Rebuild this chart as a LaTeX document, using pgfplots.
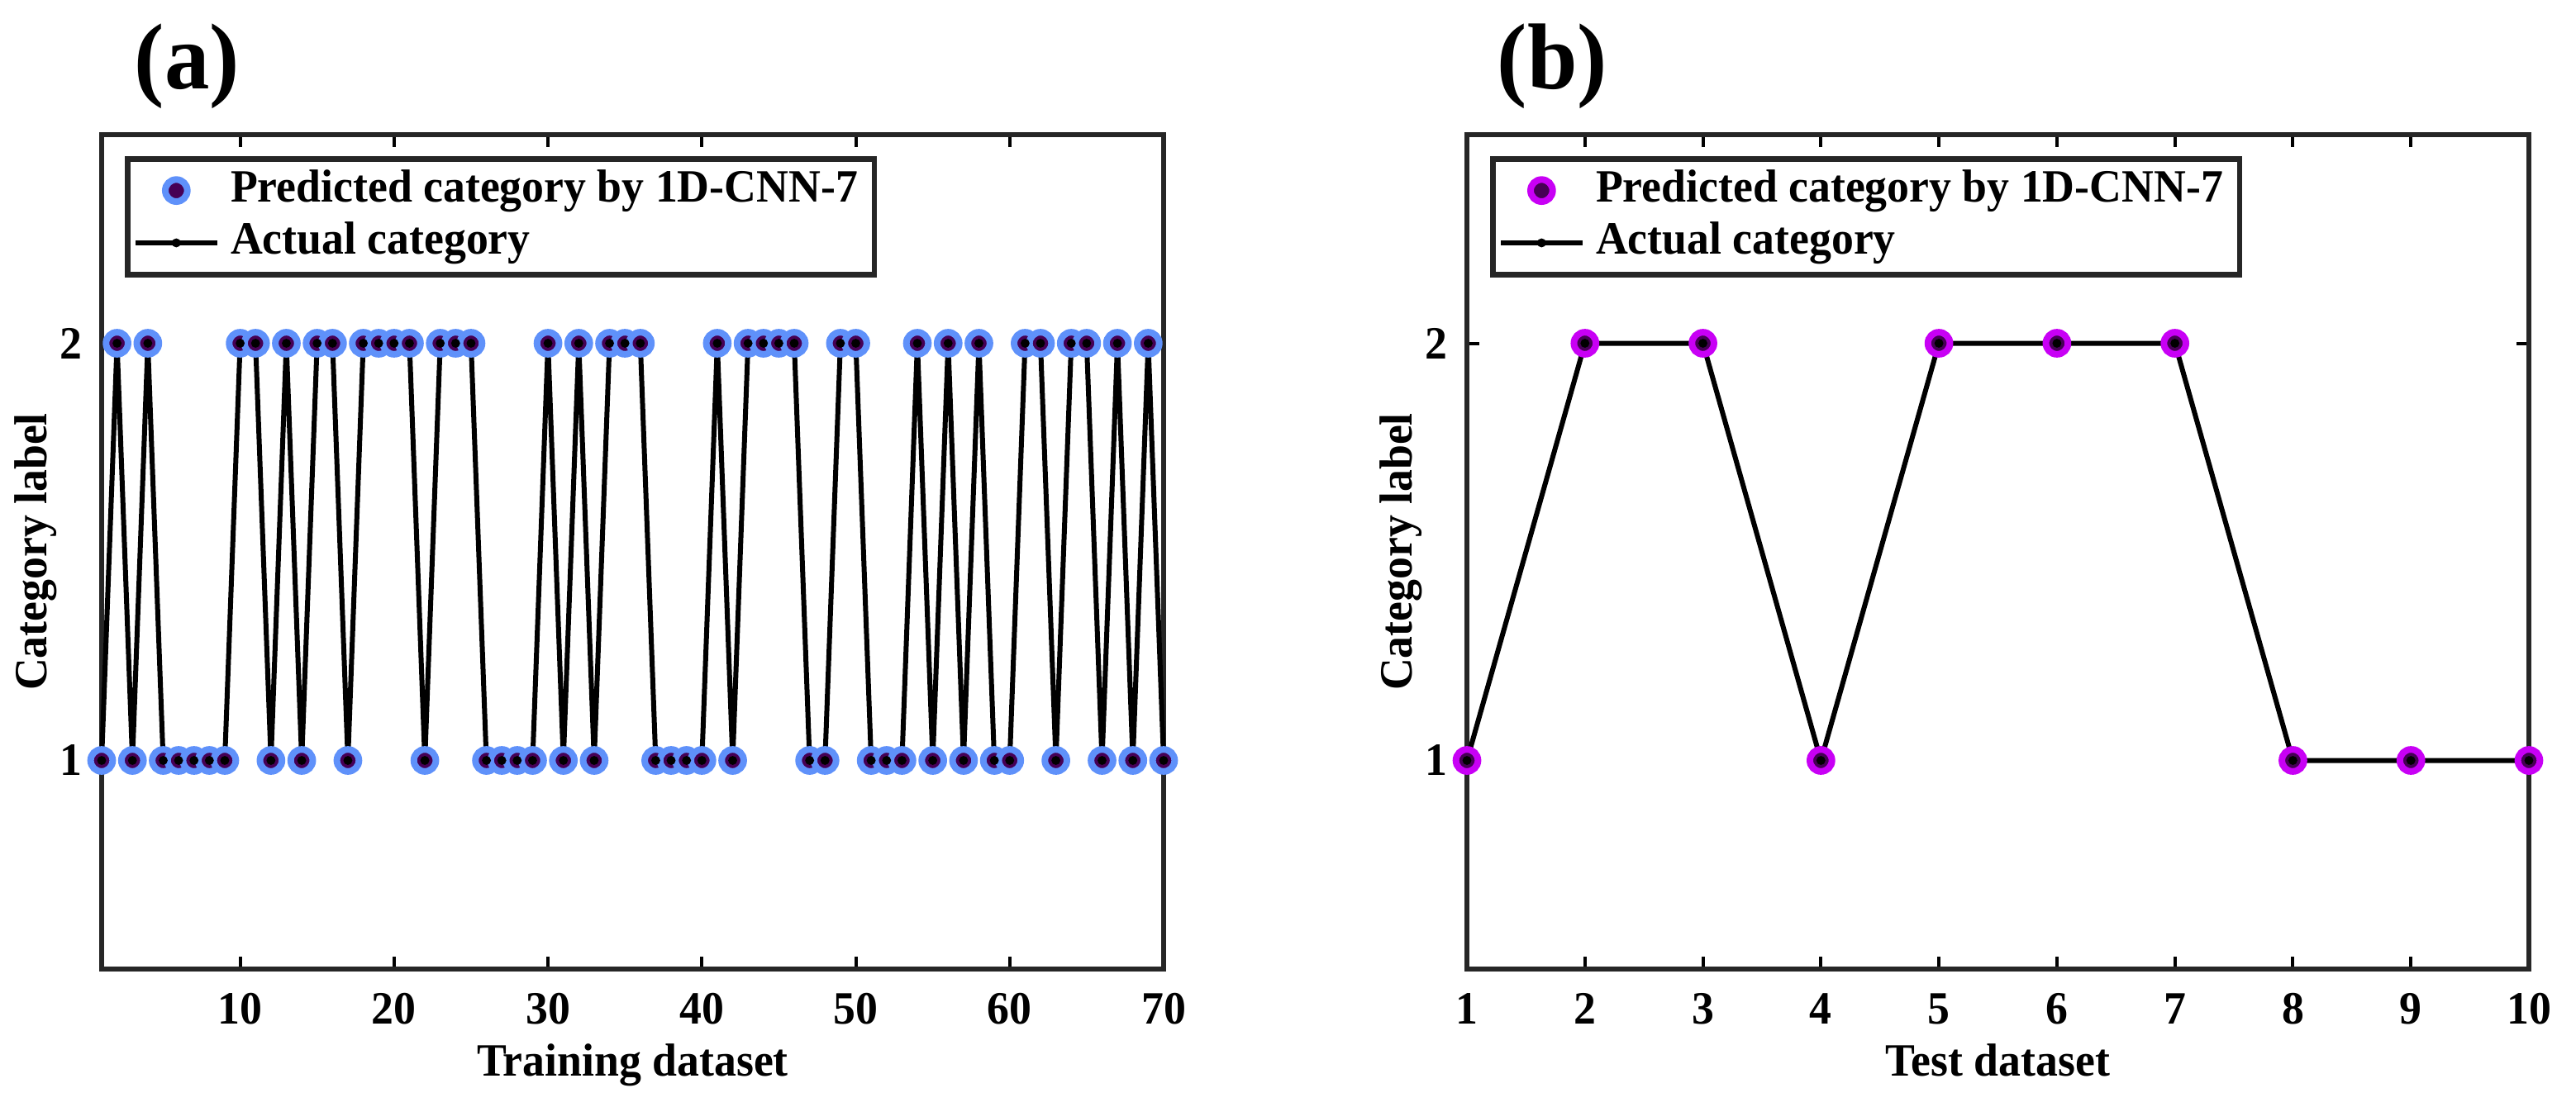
\documentclass[border=0pt]{standalone}
\usepackage{pgfplots}
\usepackage{pgfplotstable}
\pgfplotsset{compat=1.18}
\usepackage{fontspec}
\setmainfont{Liberation Serif}[FakeStretch=0.96]

\definecolor{cblue}{RGB}{95,145,250}
\definecolor{cmag}{RGB}{200,0,245}
\definecolor{cfill}{RGB}{70,0,85}

\pgfplotstableread{
x y
1 1
2 2
3 1
4 2
5 1
6 1
7 1
8 1
9 1
10 2
11 2
12 1
13 2
14 1
15 2
16 2
17 1
18 2
19 2
20 2
21 2
22 1
23 2
24 2
25 2
26 1
27 1
28 1
29 1
30 2
31 1
32 2
33 1
34 2
35 2
36 2
37 1
38 1
39 1
40 1
41 2
42 1
43 2
44 2
45 2
46 2
47 1
48 1
49 2
50 2
51 1
52 1
53 1
54 2
55 1
56 2
57 1
58 2
59 1
60 1
61 2
62 2
63 1
64 2
65 2
66 1
67 2
68 1
69 2
70 1
}\train

\pgfplotstableread{
x y
1 1
2 2
3 2
4 1
5 2
6 2
7 2
8 1
9 1
10 1
}\test

\pgfplotsset{
  myaxis/.style={
    scale only axis, width=192.75pt, height=151.5pt,
    ymin=0.5, ymax=2.5, ytick={1,2},
    axis line style={line width=0.85pt, black!85},
    tick style={line width=0.6pt, black},
    major tick length=2.3pt,
    tick align=inside,
    /pgf/number format/assume math mode=true,
    tick label style={font=\fontsize{8.4}{10}\selectfont\bfseries},
    xticklabel style={anchor=base, yshift=-10pt},
    every axis x label/.style={at={(axis description cs:0.5,0)}, anchor=base, yshift=-19.4pt,
      font=\fontsize{8.4}{10}\selectfont\bfseries},
    every axis y label/.style={at={(axis description cs:-0.0623,0.5)}, rotate=90, anchor=center,
      font=\fontsize{8.4}{10}\selectfont\bfseries},
    legend style={at={(axis description cs:0,1)}, anchor=north west, xshift=4.2pt, yshift=-3.9pt,
      draw=black!85, line width=1pt, font=\fontsize{8.4}{9.5}\selectfont\bfseries,
      inner sep=1pt, row sep=0pt, cells={anchor=west},
      nodes={inner xsep=2pt, inner ysep=0.6pt, text height=6.2pt, text depth=2.1pt}},
    legend image code/.code={\draw[mark repeat=2,mark phase=2,#1] plot coordinates {(0pt,0pt) (7.4pt,0pt) (14.8pt,0pt)};},
    clip=false,
  },
  pred/.style={only marks, mark=*, mark size=2pt, mark options={fill=cfill, draw=#1, line width=1.2pt}},
  act/.style={black, line width=0.9pt, mark=*, mark size=0.6pt, mark options={fill=black, line width=0.4pt}},
}

\begin{document}
\begin{tikzpicture}
\path[use as bounding box] (-18.45pt,-24.9pt) rectangle (449.1pt,175.95pt);

\begin{axis}[myaxis, at={(0pt,0pt)}, anchor=south west,
  xmin=1, xmax=70, xtick={10,20,...,70},
  xlabel={Training dataset}, ylabel={Category label}]
\addplot[pred=cblue] table[x=x,y=y] {\train};
\addlegendentry{Predicted category by 1D-CNN-7}
\addplot[act] table[x=x,y=y] {\train};
\addlegendentry{Actual category}
\end{axis}

\begin{axis}[myaxis, at={(247.8pt,0pt)}, anchor=south west,
  xmin=1, xmax=10, xtick={1,2,...,10},
  xlabel={Test dataset}, ylabel={Category label}]
\addplot[pred=cmag] table[x=x,y=y] {\test};
\addlegendentry{Predicted category by 1D-CNN-7}
\addplot[act] table[x=x,y=y] {\test};
\addlegendentry{Actual category}
\end{axis}

\node[font=\fontsize{17}{20}\selectfont\bfseries, anchor=center] at (15.5pt,163.95pt) {(a)};
\node[font=\fontsize{17}{20}\selectfont\bfseries, anchor=center] at (263.3pt,163.95pt) {(b)};
\end{tikzpicture}
\end{document}
